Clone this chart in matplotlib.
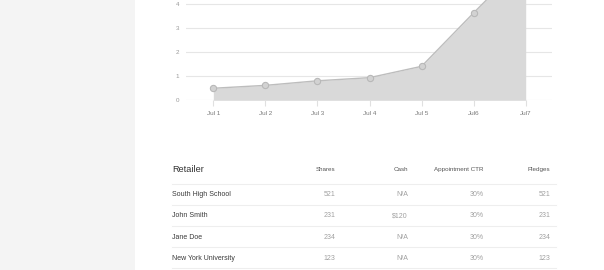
import matplotlib
matplotlib.use("Agg")
import matplotlib.pyplot as plt
from matplotlib.lines import Line2D
from matplotlib.patches import Rectangle

# ---- data ----
days = [1, 2, 3, 4, 5, 6, 7]
day_labels = ["Jul 1", "Jul 2", "Jul 3", "Jul 4", "Jul 5", "Jul6", "Jul7"]
values = [0.50, 0.62, 0.81, 0.94, 1.41, 3.63, 5.8]
y_ticks = [0, 1, 2, 3, 4]

columns = ["Retailer", "Shares", "Cash", "Appointment CTR", "Pledges"]
retailers = ["South High School", "John Smith", "Jane Doe", "New York University"]
shares = ["521", "231", "234", "123"]
cash = ["N/A", "$120", "N/A", "N/A"]
ctr = ["30%", "30%", "30%", "30%"]
pledges = ["521", "231", "234", "123"]

W, H = 604, 270
plt.rcParams['font.family'] = ['Liberation Sans', 'DejaVu Sans']
fig = plt.figure(figsize=(W / 100, H / 100), dpi=100)
fig.patch.set_facecolor("white")

def fx(px):
    return px / W

def fy(py):
    return 1 - py / H

# sidebar
fig.patches.append(Rectangle((0, 0), fx(135), 1, transform=fig.transFigure,
                             facecolor="#f4f4f4", edgecolor="none", zorder=0))

# ---- chart ----
x0, x1 = 186, 552
y0 = 100.3
ppu = 24.1
ymax = 6
ax = fig.add_axes([fx(x0), fy(y0), fx(x1) - fx(x0), ymax * ppu / H])
ax.set_xlim(0.475, 7.505)
ax.set_ylim(0, ymax)
for g in range(0, ymax + 1):
    ax.axhline(g, color="#e6e6e6", linewidth=0.8, zorder=0)
ax.fill_between(days, values, 0, color="#d9d9d9", linewidth=0, zorder=1)
ax.plot(days, values, color="#bdbdbd", linewidth=1, zorder=2,
        marker="o", markersize=4.5, markerfacecolor="#d2d2d2",
        markeredgecolor="#b8b8b8", markeredgewidth=0.8)
ax.set_yticks(y_ticks)
ax.set_xticks(days)
ax.set_xticklabels(day_labels)
for s in ax.spines.values():
    s.set_visible(False)
ax.tick_params(axis="y", length=0, labelsize=4.5, labelcolor="#999999", pad=5)
ax.tick_params(axis="x", length=4, color="#e0e0e0", width=0.8,
               labelsize=4.6, labelcolor="#7a7a7a", pad=3.5)
ax.patch.set_alpha(0)

# ---- table ----
col_x = [172, 335, 408, 484, 550]
header_y = 169
row_ys = [194.3, 215.7, 237.3, 258.3]
sep_ys = [184.3, 205.0, 226.0, 247.3, 268.3]

fig.text(fx(col_x[0]), fy(header_y), columns[0], fontsize=6.6, color="#333333",
         ha="left", va="center")
for cx, name in zip(col_x[1:], columns[1:]):
    fig.text(fx(cx), fy(header_y + 0.5), name, fontsize=4.5, color="#555555",
             ha="right", va="center")

for sy in sep_ys:
    fig.add_artist(Line2D([fx(172), fx(556)], [fy(sy), fy(sy)],
                          transform=fig.transFigure, color="#eeeeee", linewidth=0.8))

cols_vals = [shares, cash, ctr, pledges]
for i, ry in enumerate(row_ys):
    fig.text(fx(col_x[0]), fy(ry), retailers[i], fontsize=5.0, color="#3a3a3a",
             ha="left", va="center")
    for cx, vals in zip(col_x[1:], cols_vals):
        fig.text(fx(cx), fy(ry), vals[i], fontsize=5.0, color="#a0a0a0",
                 ha="right", va="center")

fig.savefig("out.png", dpi=100, facecolor=fig.get_facecolor())
